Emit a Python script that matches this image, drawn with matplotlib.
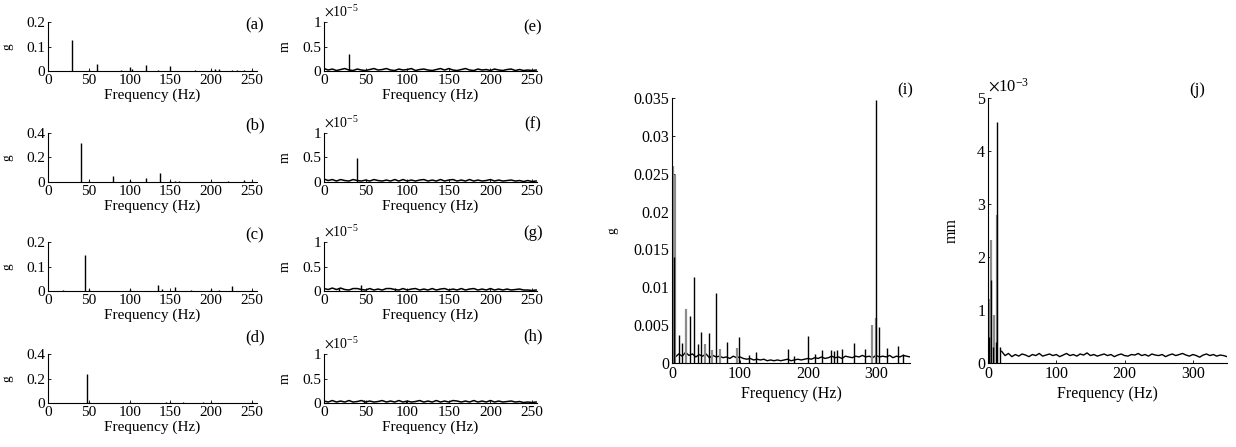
import matplotlib.pyplot as plt
import numpy as np
from matplotlib.ticker import FuncFormatter

plt.rcParams['font.family'] = ['Liberation Serif', 'DejaVu Serif']
plt.rcParams['mathtext.fontset'] = 'stix'

# ===== Data: acceleration spectra (a)-(d), g =====
a_freq = [30, 50, 60, 90, 100, 103, 120, 135, 150, 180, 200, 205, 210, 225, 232, 240, 250]
a_amp = [0.125, 0.005, 0.03, 0.004, 0.015, 0.01, 0.025, 0.004, 0.02, 0.005, 0.006, 0.008, 0.008,
         0.005, 0.004, 0.004, 0.006]
b_freq = [40, 50, 80, 100, 120, 137, 150, 155, 160, 200, 220, 240, 250]
b_amp = [0.32, 0.012, 0.045, 0.015, 0.03, 0.07, 0.012, 0.012, 0.01, 0.01, 0.012, 0.02, 0.012]
c_freq = [18, 45, 50, 100, 135, 140, 155, 175, 200, 210, 225, 250]
c_amp = [0.004, 0.145, 0.008, 0.008, 0.025, 0.008, 0.015, 0.006, 0.008, 0.006, 0.02, 0.005]
d_freq = [48, 50, 100, 145, 150, 165, 190, 200, 250]
d_amp = [0.235, 0.012, 0.008, 0.006, 0.008, 0.012, 0.006, 0.008, 0.006]

# ===== Data: displacement spectra (e)-(h), units of 1e-5 m =====
e_freq, e_amp = [30], [0.34]
f_freq, f_amp = [40], [0.48]
g_freq, g_amp = [18, 45, 85], [0.06, 0.13, 0.06]
h_freq, h_amp = [48, 98], [0.07, 0.05]
e_floor = [0.05, 0.02, 0.04, 0.01, 0.03, 0.05, 0.02, 0.01, 0.04, 0.02, 0.01, 0.03, 0.05, 0.02, 0.03,
           0.05, 0.02, 0.01, 0.04, 0.02, 0.03, 0.05, 0.01, 0.03, 0.04, 0.02, 0.01, 0.03, 0.05, 0.02,
           0.05, 0.02, 0.01, 0.03, 0.05, 0.02, 0.01, 0.04, 0.02, 0.03, 0.01, 0.04, 0.02, 0.01, 0.03,
           0.04, 0.01, 0.03, 0.01, 0.02, 0.01, 0.02]
f_floor = [0.06, 0.03, 0.05, 0.02, 0.05, 0.03, 0.02, 0.05, 0.03, 0.02, 0.04, 0.02, 0.05, 0.03, 0.02,
           0.04, 0.02, 0.05, 0.02, 0.05, 0.02, 0.04, 0.02, 0.04, 0.05, 0.02, 0.04, 0.02, 0.05, 0.02,
           0.04, 0.05, 0.02, 0.04, 0.02, 0.05, 0.02, 0.04, 0.02, 0.03, 0.05, 0.02, 0.04, 0.02, 0.03,
           0.04, 0.02, 0.03, 0.01, 0.03, 0.01, 0.02]
g_floor = [0.05, 0.03, 0.06, 0.03, 0.06, 0.03, 0.02, 0.05, 0.05, 0.03, 0.02, 0.05, 0.02, 0.04, 0.02,
           0.05, 0.05, 0.03, 0.02, 0.05, 0.02, 0.04, 0.05, 0.02, 0.04, 0.02, 0.05, 0.02, 0.04, 0.05,
           0.02, 0.04, 0.02, 0.05, 0.02, 0.04, 0.05, 0.02, 0.04, 0.02, 0.05, 0.02, 0.04, 0.02, 0.04,
           0.02, 0.03, 0.04, 0.02, 0.02, 0.01, 0.02]
h_floor = [0.04, 0.02, 0.05, 0.02, 0.04, 0.02, 0.05, 0.02, 0.03, 0.05, 0.02, 0.04, 0.02, 0.03, 0.05,
           0.02, 0.04, 0.02, 0.05, 0.02, 0.04, 0.02, 0.03, 0.05, 0.02, 0.04, 0.02, 0.05, 0.02, 0.04,
           0.02, 0.05, 0.04, 0.02, 0.04, 0.02, 0.05, 0.02, 0.04, 0.02, 0.05, 0.02, 0.04, 0.02, 0.03,
           0.04, 0.02, 0.03, 0.01, 0.02, 0.01, 0.02]

# ===== Data: (i) acceleration, g =====
i_floor = [10, 8, 12, 9, 14, 10, 12, 8, 11, 9, 12, 7, 10, 8, 9, 7, 8, 6, 9, 7, 8,
           6, 5, 6, 4, 5, 4, 5, 3, 4, 3, 4, 3, 4, 5, 3, 4, 5, 4, 5, 6,
           5, 7, 6, 8, 6, 7, 9, 7, 8, 6, 9, 8, 7, 9, 8, 10, 8, 9, 7, 10, 8, 9, 8, 10, 7, 9, 8, 10, 9, 8]  # 1e-4 g
i_black_freq = [3, 10, 14, 27, 32, 38, 43, 54, 65, 81, 99, 113, 124, 170, 180, 200, 210, 220, 234,
                238, 243, 250, 267, 284, 300, 305, 316, 332, 340]
i_black_amp = [0.014, 0.0037, 0.0027, 0.0062, 0.0113, 0.0025, 0.0041, 0.0039, 0.0092, 0.0028, 0.0035,
               0.0011, 0.0014, 0.0019, 0.0009, 0.0036, 0.0012, 0.0017, 0.0017, 0.0016, 0.0017, 0.0018,
               0.0027, 0.0018, 0.0348, 0.0047, 0.002, 0.0023, 0.0012]
i_grey_freq = [1, 4.5, 21, 49, 59, 70, 95, 294, 300]
i_grey_amp = [0.026, 0.0248, 0.0071, 0.0025, 0.0017, 0.0019, 0.002, 0.005, 0.006]

# ===== Data: (j) displacement, units of 1e-3 mm =====
j_floor = [0.22, 0.14, 0.18, 0.12, 0.16, 0.13, 0.17, 0.15, 0.12, 0.16, 0.14, 0.18, 0.13, 0.15, 0.17,
           0.14, 0.16, 0.12, 0.15, 0.18, 0.14, 0.16, 0.13, 0.17, 0.15, 0.19, 0.14, 0.16, 0.13, 0.15,
           0.17, 0.14, 0.16, 0.12, 0.15, 0.17, 0.14, 0.13, 0.16, 0.15, 0.18, 0.14, 0.16, 0.13, 0.17,
           0.15, 0.14, 0.16, 0.12, 0.15, 0.17, 0.14, 0.16, 0.18, 0.15, 0.13, 0.16, 0.14, 0.11, 0.15,
           0.17, 0.14, 0.16, 0.13, 0.15, 0.14, 0.12]
j_black_freq = [2, 4, 7, 11, 13.6, 17]
j_black_amp = [0.5, 1.57, 0.3, 0.4, 4.54, 0.3]
j_grey_freq = [3, 4, 9, 12.7]
j_grey_amp = [1.2, 2.32, 0.9, 2.8]

W, H = 1236, 447
fig = plt.figure(figsize=(W / 100, H / 100), dpi=100)


def px_axes(left, top, right, bottom):
    return fig.add_axes([left / W, 1 - bottom / H, (right - left) / W, (bottom - top) / H])


def style(ax, xmax, xticks, yticks, fs, ylab, ylab_x, ylab_fs):
    for s in ['top', 'right']:
        ax.spines[s].set_visible(False)
    for s in ['left', 'bottom']:
        ax.spines[s].set_linewidth(0.8)
    ax.set_xlim(0, xmax)
    ax.set_ylim(yticks[0], yticks[-1])
    ax.set_xticks(xticks)
    ax.set_yticks(yticks)
    ax.tick_params(direction='in', length=2.5, width=0.6, labelsize=fs, pad=2)
    ax.yaxis.set_major_formatter(FuncFormatter(lambda v, p: f'{v:g}'))
    ax.set_xlabel('Frequency (Hz)', fontsize=fs, labelpad=1)
    ax.set_ylabel(ylab, fontsize=ylab_fs)
    ax.yaxis.set_label_coords(ylab_x, 0.5)


rows = [(22, 71), (133, 182), (242, 291), (354, 403)]
left_data = [(a_freq, a_amp, [0, 0.1, 0.2], '(a)', 0.94),
             (b_freq, b_amp, [0, 0.2, 0.4], '(b)', 1.16),
             (c_freq, c_amp, [0, 0.1, 0.2], '(c)', 1.14),
             (d_freq, d_amp, [0, 0.2, 0.4], '(d)', 1.33)]
mid_data = [(e_freq, e_amp, e_floor, '(e)', 0.9),
            (f_freq, f_amp, f_floor, '(f)', 1.18),
            (g_freq, g_amp, g_floor, '(g)', 1.18),
            (h_freq, h_amp, h_floor, '(h)', 1.35)]

for (top, bot), (fr, am, yt, lab, ly) in zip(rows, left_data):
    ax = px_axes(48, top, 257, bot)
    ax.vlines(fr, 0, am, color='k', lw=1.0)
    style(ax, 256, [0, 50, 100, 150, 200, 250], yt, 11, 'g', -0.165, 9.5)
    ax.text(0.99, ly, lab, transform=ax.transAxes, ha='center', va='center', fontsize=12)

for (top, bot), (fr, am, fl, lab, ly) in zip(rows, mid_data):
    ax = px_axes(324, top, 537, bot)
    ax.plot(np.linspace(0, 255, len(fl)), np.array(fl) * 1e-5, color='k', lw=1.1)
    ax.vlines(fr, 0, np.array(am) * 1e-5, color='k', lw=1.0)
    style(ax, 256, [0, 50, 100, 150, 200, 250], [0, 0.5e-5, 1e-5], 11, 'm', -0.15, 10)
    ax.yaxis.set_major_formatter(FuncFormatter(lambda v, p: f'{v / 1e-5:g}'))
    ax.text(0.0, 1.05, r'$\times\mathregular{10^{-5}}$', transform=ax.transAxes,
            ha='left', va='bottom', fontsize=10)
    ax.text(0.98, ly, lab, transform=ax.transAxes, ha='center', va='center', fontsize=12)

# ===== (i) =====
ax = px_axes(672, 98, 910, 363)
ax.plot(np.linspace(0, 350, len(i_floor)), np.array(i_floor) * 1e-4, color='k', lw=1.0)
ax.vlines(i_grey_freq, 0, i_grey_amp, color='0.55', lw=1.6)
ax.vlines(i_black_freq, 0, i_black_amp, color='k', lw=1.0)
style(ax, 350, [0, 100, 200, 300], [0, 0.005, 0.01, 0.015, 0.02, 0.025, 0.03, 0.035],
      11.5, 'g', -0.227, 9.5)
ax.xaxis.labelpad = 3
ax.text(0.98, 1.03, '(i)', transform=ax.transAxes, ha='center', va='center', fontsize=12)

# ===== (j) =====
ax = px_axes(988, 98, 1227, 363)
ax.plot(np.linspace(20, 350, len(j_floor)), np.array(j_floor) * 1e-3, color='k', lw=1.0)
ax.vlines(j_grey_freq, 0, np.array(j_grey_amp) * 1e-3, color='0.55', lw=1.6)
ax.vlines(j_black_freq, 0, np.array(j_black_amp) * 1e-3, color='k', lw=1.0)
style(ax, 350, [0, 100, 200, 300], [0, 1e-3, 2e-3, 3e-3, 4e-3, 5e-3], 11.5, 'mm', -0.117, 11.5)
ax.yaxis.set_major_formatter(FuncFormatter(lambda v, p: f'{v / 1e-3:g}'))
ax.xaxis.labelpad = 3
ax.text(0.0, 1.01, r'$\times\mathregular{10^{-3}}$', transform=ax.transAxes,
        ha='left', va='bottom', fontsize=12)
ax.text(0.875, 1.03, '(j)', transform=ax.transAxes, ha='center', va='center', fontsize=12)

fig.savefig('out.png', dpi=100)
